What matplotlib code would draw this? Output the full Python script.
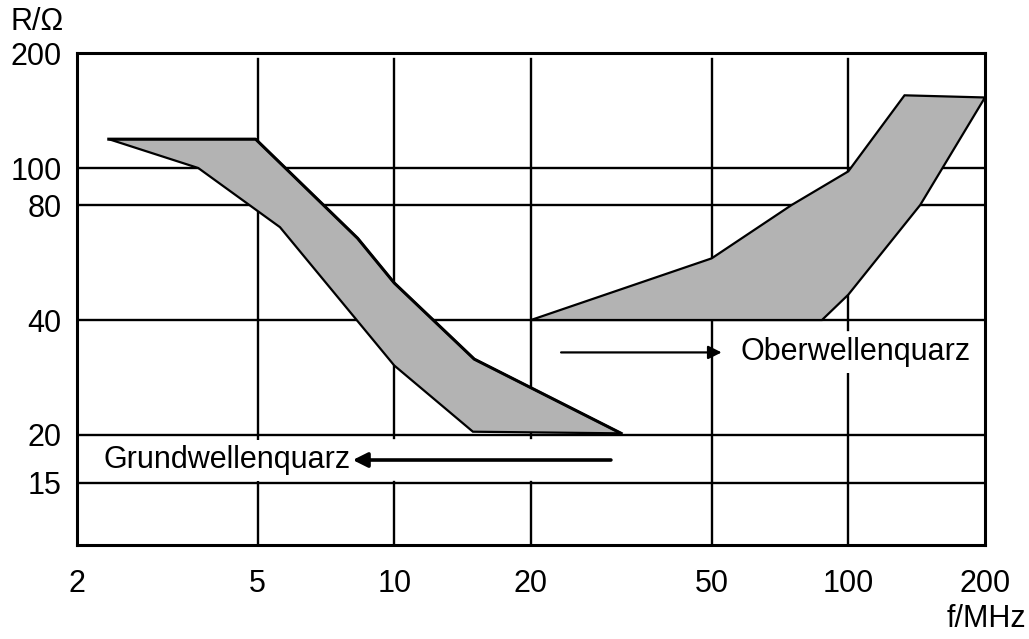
import numpy as np
import matplotlib.pyplot as plt
from matplotlib.patches import Polygon

plt.rcParams['font.family'] = ['Liberation Sans', 'DejaVu Sans']

# band of the fundamental-mode crystals (outline, f in MHz, R in Ohm)
grund_f = [2.35, 4.95, 8.3, 10, 15, 31.6, 14.9, 10, 5.6, 3.7]
grund_r = [119, 119, 65.5, 50, 31.6, 20.2, 20.4, 30.4, 70, 100]

# band of the overtone crystals
ober_f = [20, 50, 75, 100, 133, 200, 144, 100, 87.5]
ober_r = [40, 58, 80, 98, 155, 153, 80, 46.6, 40]

x_ticks = [2, 5, 10, 20, 50, 100, 200]
y_ticks = [15, 20, 40, 80, 100, 200]

# arrows: (tail f, head f, R)
grund_arrow = (30, 8.1, 17.2)
ober_arrow = (23.3, 52.6, 32.9)

FS = 22

fig = plt.figure(figsize=(10.29, 6.39), dpi=100)
ax = fig.add_axes([0.0748, 0.147, 0.8824, 0.770])
ax.set_xscale('log')
ax.set_yscale('log')
ax.set_xlim(2, 200)
ax.set_ylim(10.3, 200)

# grid
for f in x_ticks[1:-1]:
    ax.axvline(f, ymax=0.988, color='black', lw=1.7, zorder=1)
for r in y_ticks[:-1]:
    ax.axhline(r, color='black', lw=1.7, zorder=1)

# bands
for fs, rs in [(grund_f, grund_r), (ober_f, ober_r)]:
    poly = Polygon(np.column_stack([fs, rs]), closed=True,
                   facecolor='#b3b3b3', edgecolor='black', lw=1.6,
                   joinstyle='miter', zorder=3)
    ax.add_patch(poly)
# heavier upper edge of the fundamental band
ax.plot(grund_f[:6], grund_r[:6], color='black', lw=2.2, zorder=4)

# masks behind the labels (gaps in the grid)
t, h, r = grund_arrow
ax.plot([h, t], [r, r], color='white', lw=30, solid_capstyle='butt', zorder=2)
t, h, r = ober_arrow
ax.plot([h, 195], [r, r], color='white', lw=30, solid_capstyle='butt', zorder=2)

box = dict(facecolor='white', edgecolor='none', pad=4)

# arrows and labels
t, h, r = grund_arrow
ax.annotate('', xy=(h, r), xytext=(t, r),
            arrowprops=dict(arrowstyle='-|>', color='black', lw=2.6,
                            mutation_scale=22, shrinkA=0, shrinkB=0),
            zorder=5)
ax.text(h * 0.99, r, 'Grundwellenquarz', ha='right', va='center',
        fontsize=FS, bbox=box, zorder=4)

t, h, r = ober_arrow
ax.annotate('', xy=(h, r), xytext=(t, r),
            arrowprops=dict(arrowstyle='-|>', color='black', lw=1.6,
                            mutation_scale=20, shrinkA=0, shrinkB=0),
            zorder=5)
ax.text(h * 1.1, r, 'Oberwellenquarz', ha='left', va='center',
        fontsize=FS, bbox=box, zorder=4)

# ticks
ax.set_xticks(x_ticks)
ax.set_xticklabels([str(v) for v in x_ticks])
ax.set_yticks(y_ticks)
ax.set_yticklabels([str(v) for v in y_ticks])
ax.minorticks_off()
ax.tick_params(axis='both', length=0, labelsize=FS)
ax.tick_params(axis='x', pad=17)
ax.tick_params(axis='y', pad=11)

for s in ax.spines.values():
    s.set_linewidth(2.2)

fig.text(0.010, 0.965, 'R/Ω', fontsize=FS, ha='left', va='center')
fig.text(0.997, 0.032, 'f/MHz', fontsize=FS, ha='right', va='center')

fig.savefig('out.png', dpi=100)
